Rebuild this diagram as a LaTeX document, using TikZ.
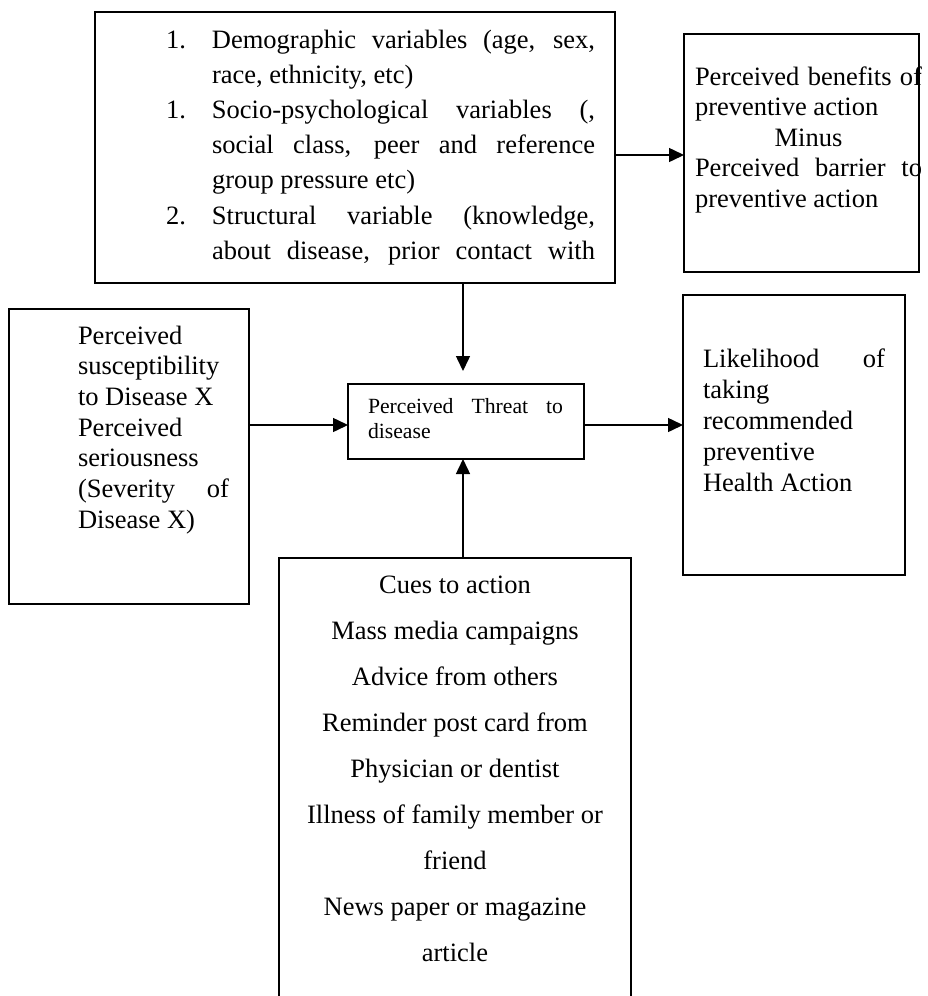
\documentclass[tikz,border=0pt]{standalone}
\usepackage{fontspec}
\setmainfont{Liberation Serif}
\usetikzlibrary{arrows.meta}
\begin{document}
\begin{tikzpicture}[x=1pt,y=-1pt,
  box/.style={draw, line width=1.5pt, inner sep=0pt, outer sep=0pt, anchor=north west},
  txt/.style={inner sep=0pt, outer sep=0pt, anchor=base west},
  arr/.style={line width=1.5pt, -{Triangle[length=15pt,width=14pt]}}]
\useasboundingbox (0,0) rectangle (927,996);
\clip (0,0) rectangle (927,996);
\fill[white] (0,0) rectangle (927,996);

% boxes
\node[box, minimum width=520pt, minimum height=271pt] (top) at (95,12) {};
\node[box, minimum width=235pt, minimum height=238pt] (rtop) at (684,34) {};
\node[box, minimum width=240pt, minimum height=295pt] (left) at (9,309) {};
\node[box, minimum width=236pt, minimum height=75pt] (threat) at (348,384) {};
\node[box, minimum width=222pt, minimum height=280pt] (right) at (683,295) {};
\node[box, minimum width=352pt, minimum height=470pt] (cues) at (279,558) {};

% texts
\node[txt, font=\fontsize{26.5}{35.2}\selectfont] (toptext) at (212,48) {\parbox[t]{383pt}{%
\leavevmode\llap{\makebox[46pt][l]{1.}}\makebox[383pt][s]{Demographic variables (age, sex,}\\
race, ethnicity, etc)\\
\llap{\makebox[46pt][l]{1.}}\makebox[383pt][s]{Socio-psychological variables (,}\\
\makebox[383pt][s]{social class, peer and reference}\\
group pressure etc)\\
\llap{\makebox[46pt][l]{2.}}\makebox[383pt][s]{Structural variable (knowledge,}\\
\makebox[383pt][s]{about disease, prior contact with}}};

\node[txt, font=\fontsize{26.5}{30.5}\selectfont] (rtoptext) at (695,85) {\parbox[t]{227pt}{%
\makebox[227pt][s]{Perceived benefits of}\\
preventive action\\
\makebox[227pt]{Minus}\\
\makebox[227pt][s]{Perceived barrier to}\\
preventive action}};

\node[txt, font=\fontsize{26.5}{30.7}\selectfont] (lefttext) at (78,344) {\parbox[t]{151pt}{%
Perceived\\
susceptibility\\
to Disease X\\
Perceived\\
seriousness\\
\makebox[151pt][s]{(Severity of}\\
Disease X)}};

\node[txt, font=\fontsize{26.5}{31}\selectfont] (righttext) at (703,367) {\parbox[t]{182pt}{%
\makebox[182pt][s]{Likelihood of}\\
taking\\
recommended\\
preventive\\
Health Action}};

\node[txt, font=\fontsize{21.7}{24.7}\selectfont] (threattext) at (368,413.3) {\parbox[t]{195pt}{%
\makebox[195pt][s]{Perceived Threat to}\\
disease}};

\node[inner sep=0pt, outer sep=0pt, anchor=base, font=\fontsize{26.5}{46}\selectfont] (cuestext) at (455,593) {\parbox[t]{352pt}{\centering
Cues to action\\
Mass media campaigns\\
Advice from others\\
Reminder post card from\\
Physician or dentist\\
Illness of family member or\\
friend\\
News paper or magazine\\
article}};

% connectors
\coordinate (ay) at (0,155);
\coordinate (by) at (0,425);
\coordinate (vx) at (463,0);
\coordinate (ta) at (463,371);
\draw[arr] (top.east |- ay) -- (rtop.west |- ay);
\draw[arr] (ta |- top.south) -- (ta);
\draw[arr] (left.east |- by) -- (threat.west |- by);
\draw[arr] (threat.east |- by) -- (right.west |- by);
\draw[arr] (vx |- cues.north) -- (vx |- threat.south);
\end{tikzpicture}
\end{document}
